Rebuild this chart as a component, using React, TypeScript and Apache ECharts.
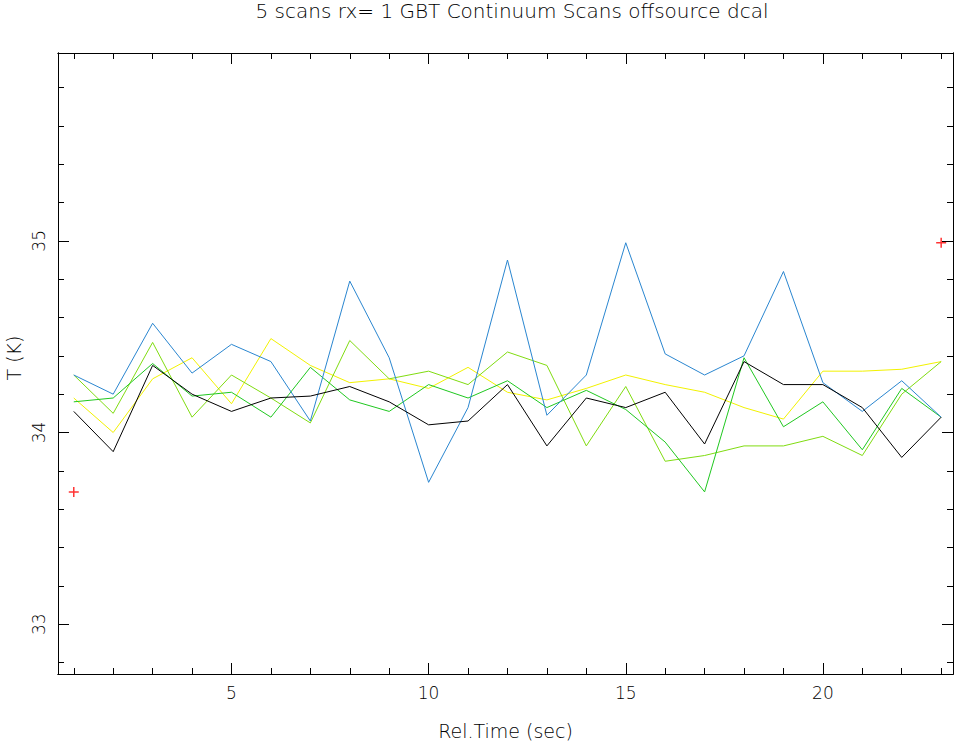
import React, { useEffect, useRef } from "react";
import * as echarts from "echarts";

const titleText = "5 scans rx= 1 GBT Continuum Scans offsource dcal";
const xName = "Rel.Time (sec)";
const yName = "T (K)";

const times = [1, 2, 3, 4, 5, 6, 7, 8, 9, 10, 11, 12, 13, 14, 15, 16, 17, 18, 19, 20, 21, 22, 23];

const scanBlue = [34.30, 34.20, 34.57, 34.31, 34.46, 34.37, 34.06, 34.79, 34.39, 33.74, 34.13, 34.90, 34.09, 34.30, 34.99, 34.41, 34.30, 34.40, 34.84, 34.26, 34.11, 34.27, 34.08];
const scanBlack = [34.11, 33.90, 34.35, 34.20, 34.11, 34.18, 34.19, 34.24, 34.16, 34.04, 34.06, 34.25, 33.93, 34.18, 34.13, 34.21, 33.94, 34.37, 34.25, 34.25, 34.13, 33.87, 34.08];
const scanYellow = [34.18, 34.00, 34.28, 34.39, 34.15, 34.49, 34.35, 34.26, 34.28, 34.23, 34.34, 34.21, 34.17, 34.23, 34.30, 34.25, 34.21, 34.13, 34.07, 34.32, 34.32, 34.33, 34.37];
const scanLime = [34.30, 34.10, 34.47, 34.08, 34.30, 34.18, 34.05, 34.48, 34.28, 34.32, 34.25, 34.42, 34.35, 33.93, 34.24, 33.85, 33.88, 33.93, 33.93, 33.98, 33.88, 34.20, 34.37];
const scanGreen = [34.16, 34.18, 34.36, 34.19, 34.21, 34.08, 34.34, 34.17, 34.11, 34.25, 34.18, 34.27, 34.13, 34.22, 34.12, 33.95, 33.69, 34.39, 34.03, 34.16, 33.91, 34.23, 34.08];

const extremaX = [1, 23];
const extremaY = [33.69, 34.99];

const xMajorTicks = [5, 10, 15, 20];
const xMinorTicks = times;
const yMajorTicks = [33, 34, 35];
const yMinorTicks = [32.8, 33.0, 33.2, 33.4, 33.6, 33.8, 34.0, 34.2, 34.4, 34.6, 34.8, 35.0, 35.2, 35.4, 35.6, 35.8];

const X_MIN = 0.6;
const X_MAX = 23.3;
const Y_MIN = 32.74;
const Y_MAX = 35.98;

const FONT = "DejaVu Sans";

export default function App() {
  const ref = useRef<HTMLDivElement>(null);

  useEffect(() => {
    if (!ref.current) return;
    const chart = echarts.init(ref.current, null, { renderer: "svg" });
    const line = { color: "#000", width: 1 };
    const txt = { fontFamily: FONT, fontWeight: 200, color: "#000" };
    const mkX = (pos: string, vals: number[], len: number, labels: boolean, name?: string) => ({
      type: "value",
      min: X_MIN,
      max: X_MAX,
      position: pos,
      gridIndex: 0,
      axisLine: { show: true, onZero: false, lineStyle: line },
      axisTick: { show: true, inside: true, length: len, customValues: vals, lineStyle: line },
      axisLabel: labels
        ? { show: true, customValues: vals, margin: 10, fontSize: 17, ...txt }
        : { show: false },
      splitLine: { show: false },
      name: name,
      nameLocation: "middle",
      nameGap: 47,
      nameTextStyle: { fontSize: 19, ...txt },
    });
    const mkY = (pos: string, vals: number[], len: number, labels: boolean) => ({
      type: "value",
      min: Y_MIN,
      max: Y_MAX,
      position: pos,
      gridIndex: 0,
      axisLine: { show: true, onZero: false, lineStyle: line },
      axisTick: { show: true, inside: true, length: len, customValues: vals, lineStyle: line },
      axisLabel: labels
        ? { show: true, customValues: vals, rotate: 90, margin: 11, fontSize: 17, ...txt }
        : { show: false },
      splitLine: { show: false },
    });

    const mk = (data: number[], color: string, name: string) => ({
      type: "line",
      name,
      xAxisIndex: 0,
      yAxisIndex: 0,
      data: times.map((t, i) => [t, data[i]]),
      showSymbol: false,
      symbol: "none",
      lineStyle: { color, width: 1 },
      itemStyle: { color },
    });

    chart.setOption({
      animation: false,
      backgroundColor: "#fff",
      grid: { left: 58, right: 2, top: 53, bottom: 68, containLabel: false },
      graphic: [
        {
          type: "text",
          x: 512,
          y: 11,
          style: {
            text: titleText,
            fontFamily: FONT,
            fontWeight: 200,
            fontSize: 20,
            fill: "#000",
            textAlign: "center",
            textVerticalAlign: "middle",
          },
        },
        {
          type: "text",
          x: 14,
          y: 358,
          rotation: Math.PI / 2,
          style: {
            text: yName,
            fontFamily: FONT,
            fontWeight: 200,
            fontSize: 19,
            fill: "#000",
            textAlign: "center",
            textVerticalAlign: "middle",
          },
        },
      ],
      xAxis: [
        mkX("bottom", xMajorTicks, 11, true, xName),
        mkX("bottom", xMinorTicks, 6, false),
        mkX("top", xMajorTicks, 11, false),
        mkX("top", xMinorTicks, 6, false),
      ],
      yAxis: [
        mkY("left", yMajorTicks, 11, true),
        mkY("left", yMinorTicks, 6, false),
        mkY("right", yMajorTicks, 11, false),
        mkY("right", yMinorTicks, 6, false),
      ],
      series: [
        mk(scanYellow, "#f2f200", "scan 1"),
        mk(scanLime, "#80dc10", "scan 2"),
        mk(scanGreen, "#20c820", "scan 3"),
        mk(scanBlue, "#2a86d0", "scan 4"),
        mk(scanBlack, "#000000", "scan 5"),
        {
          type: "scatter",
          name: "extrema",
          xAxisIndex: 0,
          yAxisIndex: 0,
          data: extremaX.map((x, i) => [x, extremaY[i]]),
          symbol: "path://M0,5L10,5M5,0L5,10",
          symbolSize: 10,
          itemStyle: { color: "none", borderColor: "#ff0000", borderWidth: 1.5 },
        },
      ],
    });
    return () => chart.dispose();
  }, []);

  return (
    <div
      ref={ref}
      style={{ position: "fixed", left: 0, top: 0, width: 955, height: 745, background: "#fff" }}
    />
  );
}
